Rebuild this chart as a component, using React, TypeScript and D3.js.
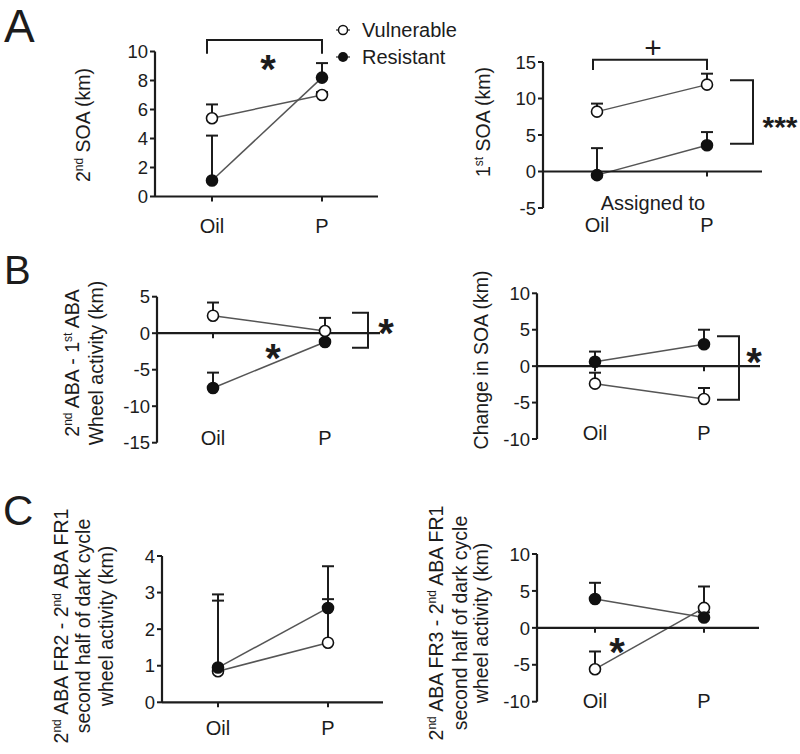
import * as d3 from "d3";

const groups = ["Oil", "P"];

// A left: 2nd SOA (km)
const soa2Vuln = [5.4, 7.0];
const soa2VulnSem = [0.95, 0.2];
const soa2Res = [1.1, 8.2];
const soa2ResSem = [3.1, 1.0];

// A right: 1st SOA (km)
const soa1Vuln = [8.2, 11.9];
const soa1VulnSem = [1.1, 1.5];
const soa1Res = [-0.5, 3.6];
const soa1ResSem = [3.7, 1.8];

// B left: 2nd ABA - 1st ABA wheel activity
const wheelVuln = [2.4, 0.3];
const wheelVulnSem = [1.8, 1.8];
const wheelRes = [-7.5, -1.2];
const wheelResSem = [2.1, 0.3];

// B right: change in SOA
const changeVuln = [-2.4, -4.5];
const changeVulnSem = [1.5, 1.5];
const changeRes = [0.6, 3.0];
const changeResSem = [1.4, 2.0];

// C left: FR2 - FR1
const fr2Vuln = [0.85, 1.63];
const fr2VulnSem = [2.1, 1.19];
const fr2Res = [0.95, 2.58];
const fr2ResSem = [1.83, 1.14];

// C right: FR3 - FR1
const fr3Vuln = [-5.6, 2.7];
const fr3VulnSem = [2.4, 2.9];
const fr3Res = [3.9, 1.4];
const fr3ResSem = [2.2, 0.7];

const soa2Ticks = [0, 2, 4, 6, 8, 10];
const soa1Ticks = [-5, 0, 5, 10, 15];
const wheelTicks = [-15, -10, -5, 0, 5];
const changeTicks = [-10, -5, 0, 5, 10];
const fr2Ticks = [0, 1, 2, 3, 4];
const fr3Ticks = [-10, -5, 0, 5, 10];

const FONT = "'Liberation Sans', Arial, sans-serif";
const INK = "#1c1c1c";
const LINE = "#555";

type Seg = [string, boolean?];

function Label({ x, cy, lines }: { x: number[]; cy: number; lines: Seg[][] }) {
  return (
    <g>
      {lines.map((segs, i) => (
        <text key={i} transform={`translate(${x[i]},${cy}) rotate(-90)`} textAnchor="middle"
          dy="0.35em" fontSize={19.5} fill={INK} fontFamily={FONT}>
          {segs.map(([s, sup], j) =>
            sup ? <tspan key={j} fontSize={12} dy={-7}>{s}</tspan>
                : <tspan key={j} dy={j > 0 && segs[j - 1][1] ? 7 : 0}>{s}</tspan>
          )}
        </text>
      ))}
    </g>
  );
}

function Panel(p: any) {
  const y = d3.scaleLinear().domain(p.domain).range([p.bottom, p.top]);
  const x = d3.scalePoint<string>().domain(groups).range([p.xOil, p.xP]);
  const y0 = y(0);
  const line = d3.line<number>().x((_, i) => x(groups[i])!).y((d) => y(d));
  const series = [
    { vals: p.vuln, sem: p.vulnSem, open: true },
    { vals: p.res, sem: p.resSem, open: false },
  ];
  return (
    <g fontFamily={FONT}>
      {series.map((s, k) => (
        <path key={"l" + k} d={line(s.vals) ?? ""} fill="none" stroke={LINE} strokeWidth={1.5} />
      ))}
      <line x1={p.axisX} x2={p.axisX} y1={y(p.domain[0])} y2={y(p.domain[1])} stroke={INK} strokeWidth={2.2} />
      {p.ticks.map((t: number) => (
        <g key={t}>
          <line x1={p.axisX - 5} x2={p.axisX} y1={y(t)} y2={y(t)} stroke={INK} strokeWidth={2} />
          <text x={p.axisX - 7} y={y(t)} dy="0.36em" textAnchor="end" fontSize={18.5} fill={INK}>{t}</text>
        </g>
      ))}
      <line x1={p.axisX} x2={p.xEnd} y1={y0} y2={y0} stroke={INK} strokeWidth={2.2} />
      {groups.map((g) => (
        <line key={g} x1={x(g)} x2={x(g)} y1={y0} y2={y0 + 5} stroke={INK} strokeWidth={2} />
      ))}
      {series.map((s, k) =>
        s.vals.map((v: number, i: number) => {
          const cx = x(groups[i])!;
          const top = y(v + s.sem[i]);
          return (
            <g key={`e${k}${i}`} stroke={INK} strokeWidth={2}>
              <line x1={cx} x2={cx} y1={y(v)} y2={top} />
              <line x1={cx - 6} x2={cx + 6} y1={top} y2={top} />
            </g>
          );
        })
      )}
      {series.map((s, k) =>
        s.vals.map((v: number, i: number) => (
          <circle key={`c${k}${i}`} cx={x(groups[i])} cy={y(v)} r={5.5}
            fill={s.open ? "#fff" : "#111"} stroke="#111" strokeWidth={1.6} />
        ))
      )}
      {groups.map((g) => (
        <text key={"x" + g} x={x(g)} y={p.xLabelY} dy="0.36em" textAnchor="middle" fontSize={20} fill={INK}>{g}</text>
      ))}
      {p.children ? p.children(x, y) : null}
    </g>
  );
}

function Star({ x, y, size = 40, text = "*", bold = true }: { x: number; y: number; size?: number; text?: string; bold?: boolean }) {
  const lift = text === "*" ? 0.58 : 0.33;
  return (
    <text x={x} y={y + size * lift} textAnchor="middle" fontSize={size} fontWeight={bold ? "bold" : "normal"}
      fill={INK} fontFamily={FONT}>{text}</text>
  );
}

export default function App() {
  const br = { fill: "none", stroke: INK, strokeWidth: 2 };
  return (
    <svg width={800} height={754} style={{ display: "block", position: "absolute", left: 0, top: 0 }}>
      <rect width={800} height={754} fill="#fff" />
      <g fontFamily={FONT} fill={INK}>
        <text x={4} y={42} fontSize={46}>A</text>
        <text x={4} y={284} fontSize={40}>B</text>
        <text x={3} y={525} fontSize={42}>C</text>
      </g>

      {/* legend */}
      <g fontFamily={FONT}>
        <line x1={336} x2={350} y1={30} y2={30} stroke={LINE} strokeWidth={1.5} />
        <circle cx={343} cy={30} r={4.5} fill="#fff" stroke="#111" strokeWidth={1.5} />
        <text x={362} y={30} dy="0.36em" fontSize={20} fill={INK}>Vulnerable</text>
        <line x1={336} x2={350} y1={57} y2={57} stroke={LINE} strokeWidth={1.5} />
        <circle cx={343} cy={57} r={5} fill="#111" />
        <text x={362} y={57} dy="0.36em" fontSize={20} fill={INK}>Resistant</text>
      </g>

      <Panel domain={[0, 10]} top={51.5} bottom={196.5} axisX={155} xOil={212} xP={322} xEnd={378}
        ticks={soa2Ticks} vuln={soa2Vuln} vulnSem={soa2VulnSem} res={soa2Res} resSem={soa2ResSem} xLabelY={226}
        children={(x: any, y: any) => (
          <g>
            <path d={`M${x("Oil") - 5},${y(9.85)}V${y(10.8)}H${x("P")}V${y(9.85)}`} {...br} />
            <Star x={268} y={y(9.4)} />
          </g>
        )} />
      <Label x={[90]} cy={125} lines={[[["2"], ["nd", true], [" SOA (km)"]]]} />

      <Panel domain={[-5, 15]} top={62} bottom={208} axisX={543} xOil={597} xP={707} xEnd={762}
        ticks={soa1Ticks} vuln={soa1Vuln} vulnSem={soa1VulnSem} res={soa1Res} resSem={soa1ResSem} xLabelY={225}
        children={(x: any, y: any) => (
          <g>
            <path d={`M${x("Oil") - 4},${y(13.9)}V${y(15.3)}H${x("P")}V${y(13.9)}`} {...br} />
            <Star x={653} y={y(16.9)} size={30} text="+" bold={false} />
            <path d={`M${730},${y(12.5)}H${753}V${y(3.8)}H${730}`} {...br} />
            <text x={780} y={y(7.1) + 17} textAnchor="middle" fontSize={30} fontWeight="bold" fill={INK} fontFamily={FONT}>***</text>
            <text x={653} y={203} dy="0.36em" textAnchor="middle" fontSize={20} fill={INK} fontFamily={FONT}>Assigned to</text>
          </g>
        )} />
      <Label x={[490]} cy={122} lines={[[["1"], ["st", true], [" SOA (km)"]]]} />

      <Panel domain={[-15, 5]} top={296.7} bottom={442.7} axisX={157} xOil={213} xP={325} xEnd={380}
        ticks={wheelTicks} vuln={wheelVuln} vulnSem={wheelVulnSem} res={wheelRes} resSem={wheelResSem} xLabelY={438}
        children={(x: any, y: any) => (
          <g>
            <path d={`M${352},${y(2.8)}H${368}V${y(-2)}H${352}`} {...br} />
            <Star x={386} y={y(1.3)} />
            <Star x={273} y={y(-2.15)} />
          </g>
        )} />
      <Label x={[79, 103]} cy={363} lines={[
        [["2"], ["nd", true], [" ABA - 1"], ["st", true], [" ABA"]],
        [["Wheel activity (km)"]],
      ]} />

      <Panel domain={[-10, 10]} top={293.3} bottom={439} axisX={537} xOil={595} xP={704} xEnd={760}
        ticks={changeTicks} vuln={changeVuln} vulnSem={changeVulnSem} res={changeRes} resSem={changeResSem} xLabelY={433}
        children={(x: any, y: any) => (
          <g>
            <path d={`M${717},${y(4.1)}H${739}V${y(-4.6)}H${717}`} {...br} />
            <Star x={754} y={y(1.8)} />
          </g>
        )} />
      <Label x={[488]} cy={360} lines={[[["Change in SOA (km)"]]]} />

      <Panel domain={[0, 4]} top={556} bottom={702.3} axisX={162} xOil={218} xP={328} xEnd={383}
        ticks={fr2Ticks} vuln={fr2Vuln} vulnSem={fr2VulnSem} res={fr2Res} resSem={fr2ResSem} xLabelY={728} />
      <Label x={[68, 90, 113]} cy={626} lines={[
        [["2"], ["nd", true], [" ABA FR2 - 2"], ["nd", true], [" ABA FR1"]],
        [["second half of dark cycle"]],
        [["wheel activity (km)"]],
      ]} />

      <Panel domain={[-10, 10]} top={554} bottom={701.7} axisX={537} xOil={595} xP={704} xEnd={759}
        ticks={fr3Ticks} vuln={fr3Vuln} vulnSem={fr3VulnSem} res={fr3Res} resSem={fr3ResSem} xLabelY={701}
        children={(x: any, y: any) => (
          <Star x={617} y={y(-2.0)} />
        )} />
      <Label x={[443, 467, 488]} cy={623} lines={[
        [["2"], ["nd", true], [" ABA FR3 - 2"], ["nd", true], [" ABA FR1"]],
        [["second half of dark cycle"]],
        [["wheel activity (km)"]],
      ]} />
    </svg>
  );
}
